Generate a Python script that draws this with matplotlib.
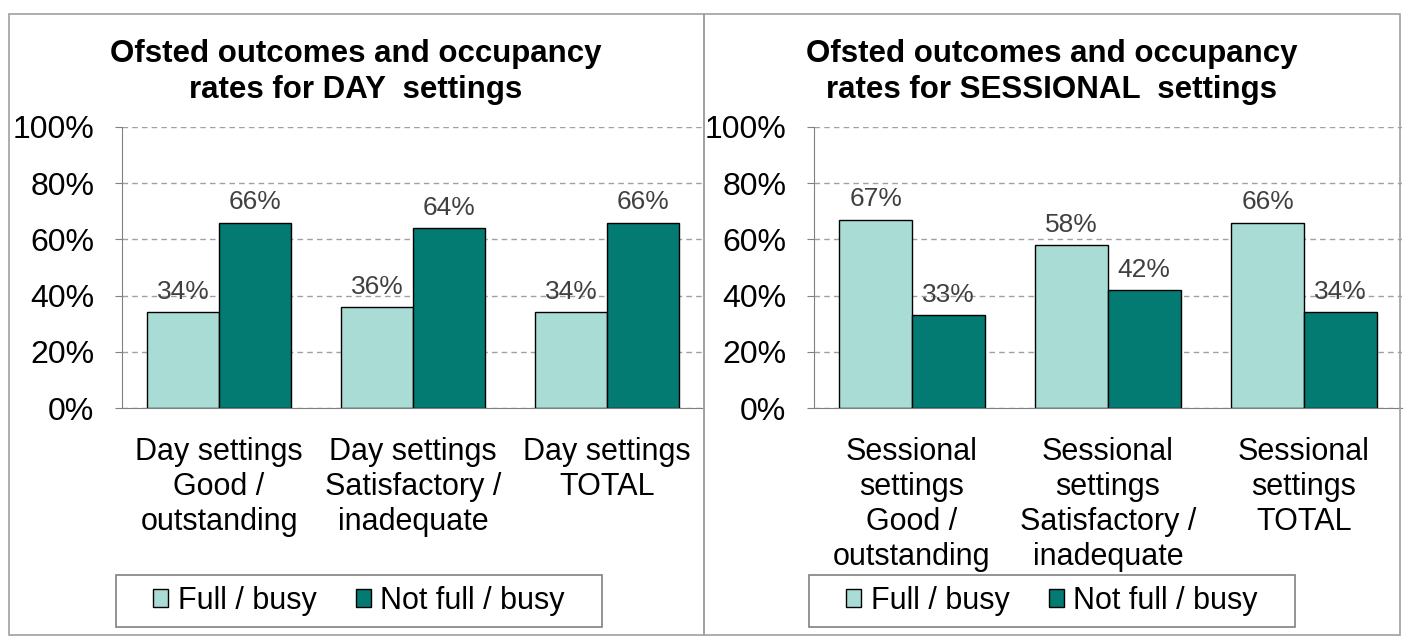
import matplotlib.pyplot as plt
from matplotlib.patches import Patch, Rectangle

plt.rcParams['font.family'] = ['Liberation Sans', 'DejaVu Sans']

day_cats = ['Day settings\nGood /\noutstanding', 'Day settings\nSatisfactory /\ninadequate',
            'Day settings\nTOTAL']
day_full = [34, 36, 34]
day_notfull = [66, 64, 66]

sess_cats = ['Sessional\nsettings\nGood /\noutstanding', 'Sessional\nsettings\nSatisfactory /\ninadequate',
             'Sessional\nsettings\nTOTAL']
sess_full = [67, 58, 66]
sess_notfull = [33, 42, 34]

titles = ['Ofsted outcomes and occupancy\nrates for DAY  settings',
          'Ofsted outcomes and occupancy\nrates for SESSIONAL  settings']
series_names = ['Full / busy', 'Not full / busy']
yticks = [0, 20, 40, 60, 80, 100]

light = '#a9dcd5'
dark = '#037a72'

W, H = 1408, 640
fig = plt.figure(figsize=(W / 100, H / 100), dpi=100)


def box(x0, y0, x1, y1, color):
    fig.add_artist(Rectangle((x0 / W, 1 - y1 / H), (x1 - x0) / W, (y1 - y0) / H,
                             transform=fig.transFigure, fill=False,
                             edgecolor=color, linewidth=1.2))


# panel frames
box(9, 14, 704, 635, '#a0a0a0')
box(704, 14, 1400, 635, '#a0a0a0')


def panel(ax_left, ax_right, cx, leg_x, cats, full, notfull, title):
    top, bot = 127, 408
    ax = fig.add_axes([ax_left / W, 1 - bot / H, (ax_right - ax_left) / W, (bot - top) / H])
    x = range(len(cats))
    w = 0.37
    b1 = ax.bar([i - w / 2 for i in x], full, w, color=light, edgecolor='black', linewidth=1)
    b2 = ax.bar([i + w / 2 for i in x], notfull, w, color=dark, edgecolor='black', linewidth=1)
    for bars, vals in [(b1, full), (b2, notfull)]:
        for r, v in zip(bars, vals):
            ax.annotate(f'{v}%', (r.get_x() + r.get_width() / 2, v), xytext=(0, 6),
                        textcoords='offset points', ha='center', va='bottom',
                        fontsize=19, color='#404040')
    ax.set_xlim(-0.5, 2.5)
    ax.set_ylim(0, 100)
    ax.set_yticks(yticks)
    ax.set_yticklabels([f'{t}%' for t in yticks], fontsize=23)
    ax.set_xticks(list(x))
    ax.set_xticklabels(cats, fontsize=22, linespacing=1.22, va='top')
    ax.tick_params(axis='x', length=0, pad=21)
    ax.tick_params(axis='y', length=5, color='#808080', pad=15)
    for s in ['top', 'right']:
        ax.spines[s].set_visible(False)
    ax.spines['left'].set_color('#808080')
    ax.spines['bottom'].set_color('#808080')
    ax.yaxis.grid(True, linestyle=(0, (4, 3)), color='#a0a0a0', linewidth=1)
    ax.set_axisbelow(True)
    ax.patch.set_alpha(0)
    fig.text(cx / W, 1 - 72 / H, title, ha='center', va='center', fontsize=22.5,
             fontweight='bold', linespacing=1.28)
    handles = [Patch(facecolor=light, edgecolor='black'), Patch(facecolor=dark, edgecolor='black')]
    box(leg_x[0], 575, leg_x[1], 627, '#808080')
    fig.legend(handles, series_names, loc='center',
               bbox_to_anchor=(sum(leg_x) / 2 / W, 1 - 601 / H),
               ncol=2, fontsize=22, frameon=False,
               handlelength=0.5, handleheight=0.5, handletextpad=0.3, columnspacing=1.3,
               borderpad=0.25)
    return ax


panel(122, 704, 356, (116, 602), day_cats, day_full, day_notfull, titles[0])
panel(814, 1402, 1052, (809, 1295), sess_cats, sess_full, sess_notfull, titles[1])

fig.savefig('out.png', dpi=100)
